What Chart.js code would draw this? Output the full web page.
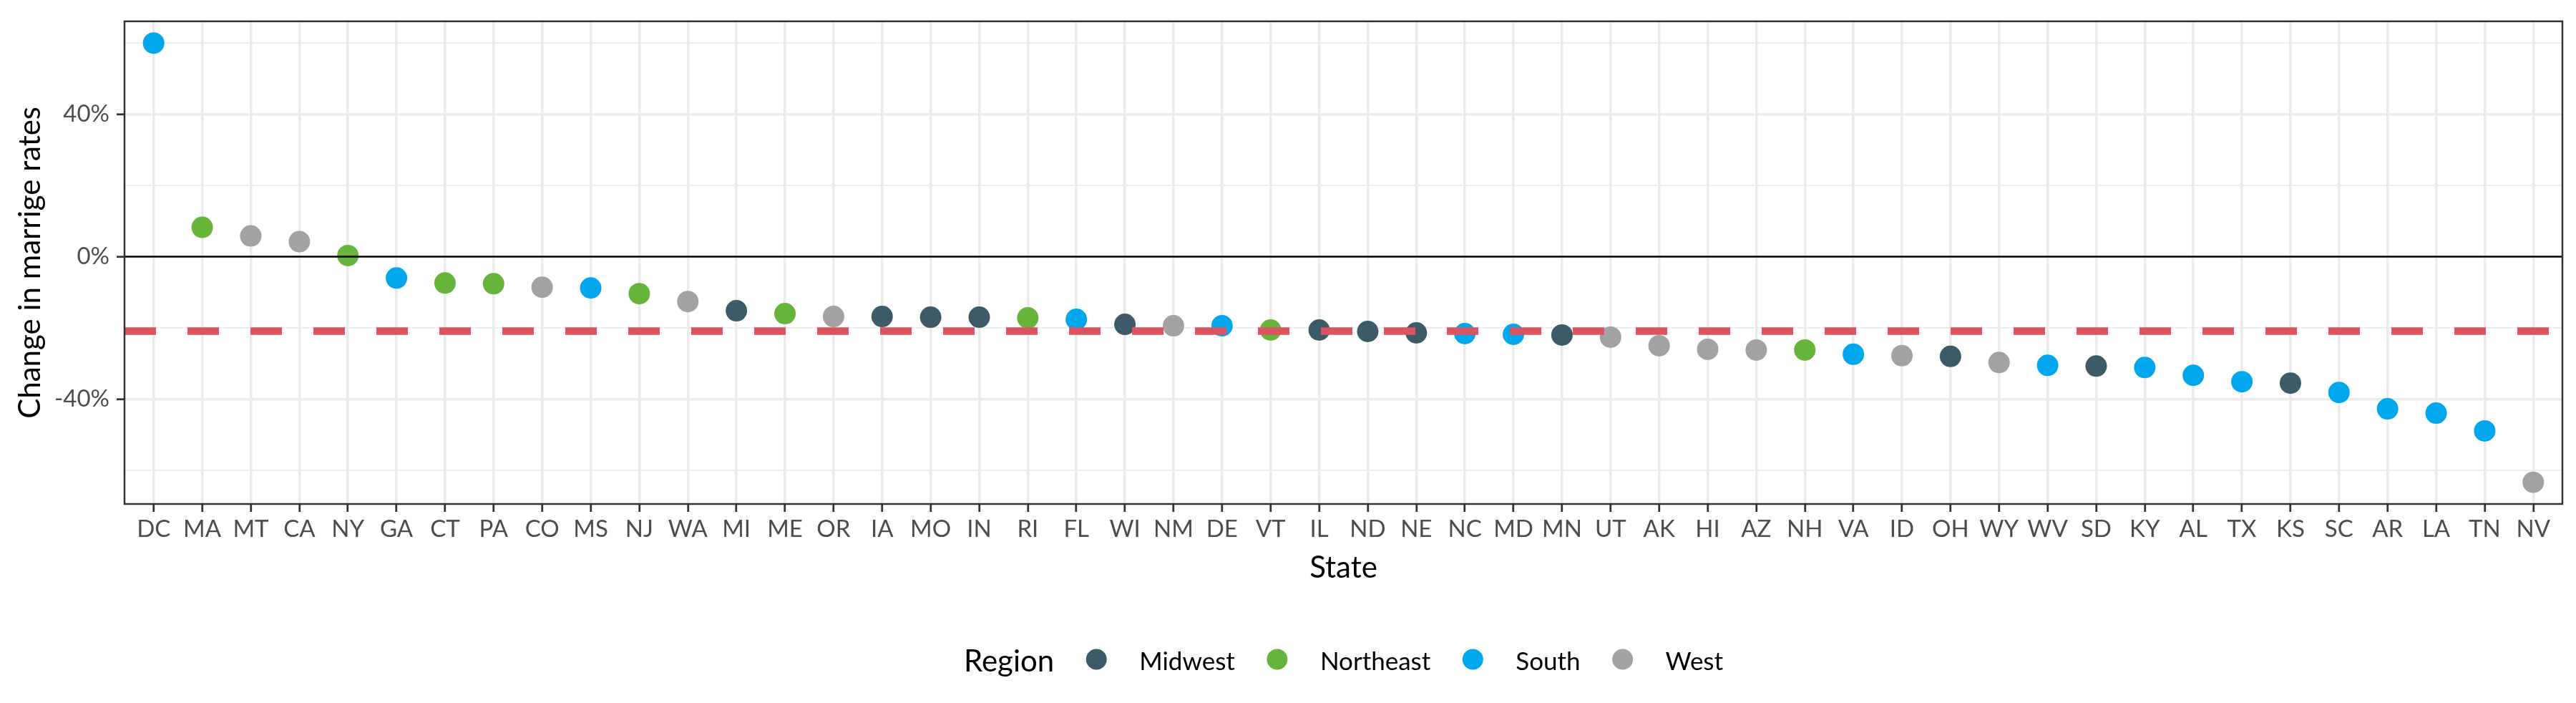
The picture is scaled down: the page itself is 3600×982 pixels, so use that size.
<!DOCTYPE html>
<html>
<head>
<meta charset="utf-8">
<title>Change in marrige rates by state</title>
<script src="https://cdn.jsdelivr.net/npm/chart.js@4.4.0/dist/chart.umd.min.js"></script>
<style>
  html, body { margin: 0; padding: 0; background: #fff; }
  canvas { display: block; }
</style>
</head>
<body>
<canvas id="chart" width="3600" height="982"></canvas>
<script>
// values (percent change)
const states = ["DC", "MA", "MT", "CA", "NY", "GA", "CT", "PA", "CO", "MS",
                "NJ", "WA", "MI", "ME", "OR", "IA", "MO", "IN", "RI", "FL",
                "WI", "NM", "DE", "VT", "IL", "ND", "NE", "NC", "MD", "MN",
                "UT", "AK", "HI", "AZ", "NH", "VA", "ID", "OH", "WY", "WV",
                "SD", "KY", "AL", "TX", "KS", "SC", "AR", "LA", "TN", "NV"];
const changes = [59.9, 8.2, 5.8, 4.2, 0.3, -6.0, -7.4, -7.6, -8.6, -8.8,
                 -10.4, -12.6, -15.2, -16.0, -16.8, -16.8, -17.0, -17.0, -17.2, -17.6,
                 -19.0, -19.4, -19.4, -20.6, -20.6, -21.0, -21.4, -21.6, -21.8, -22.0,
                 -22.6, -25.0, -26.0, -26.2, -26.2, -27.4, -27.8, -28.0, -29.7, -30.5,
                 -30.7, -31.1, -33.3, -35.1, -35.5, -38.1, -42.7, -43.9, -48.9, -63.3];
const regions = ["South", "Northeast", "West", "West", "Northeast", "South", "Northeast", "Northeast", "West", "South",
                 "Northeast", "West", "Midwest", "Northeast", "West", "Midwest", "Midwest", "Midwest", "Northeast", "South",
                 "Midwest", "West", "South", "Northeast", "Midwest", "Midwest", "Midwest", "South", "South", "Midwest",
                 "West", "West", "West", "West", "Northeast", "South", "West", "Midwest", "West", "South",
                 "Midwest", "South", "South", "South", "Midwest", "South", "South", "South", "South", "West"];
const regionNames = ["Midwest", "Northeast", "South", "West"];
const regionColors = ["#3D5B67", "#67B43B", "#00A7EC", "#A2A2A2"];
const yTicks = [-60, -40, -20, 0, 20, 40, 60];
const yLabelled = [-40, 0, 40];
const referenceChange = -20.9;

const xMin = -0.6;
const xMax = states.length - 1 + 0.6;
const FONT = "Lato";

const pointSets = regionNames.map((name, r) => ({
    type: "scatter",
    label: name,
    region: true,
    order: 2,
    data: states.map((s, i) => ({ x: i, y: changes[i], r: regions[i] }))
               .filter(p => p.r === name),
    backgroundColor: regionColors[r],
    borderWidth: 0,
    pointRadius: 15,
    pointHoverRadius: 15
}));

const zeroLine = {
    type: "line",
    label: "zero",
    order: 1,
    data: [{ x: xMin, y: 0 }, { x: xMax, y: 0 }],
    borderColor: "#000000",
    borderWidth: 2.5,
    pointRadius: 0
};

const refLine = {
    type: "line",
    label: "reference",
    order: 0,
    data: [{ x: xMin, y: referenceChange }, { x: xMax, y: referenceChange }],
    borderColor: "#DB5461",
    borderWidth: 10.5,
    borderDash: [44, 44],
    borderCapStyle: "butt",
    pointRadius: 0
};

const panelBorder = {
    id: "panelBorder",
    afterDatasetsDraw(chart) {
        const { ctx, chartArea: a } = chart;
        ctx.save();
        ctx.strokeStyle = "#333333";
        ctx.lineWidth = 2.5;
        ctx.strokeRect(a.left, a.top, a.right - a.left, a.bottom - a.top);
        ctx.restore();
    }
};

// legend laid out like ggplot's bottom legend: title inline, then keys
const regionLegend = {
    id: "regionLegend",
    afterDraw(chart) {
        const { ctx, chartArea: a } = chart;
        const items = chart.data.datasets.filter(d => d.region);
        const y = 921;
        ctx.save();
        ctx.textBaseline = "alphabetic";
        ctx.font = `42px ${FONT}`;
        const titleW = ctx.measureText("Region").width;
        ctx.font = `35px ${FONT}`;
        const widths = items.map(d => ctx.measureText(d.label).width);
        const total = titleW + widths.reduce((s, w) => s + w + 119, 0);
        let x = (a.left + a.right) / 2 - total / 2;

        ctx.fillStyle = "#000000";
        ctx.font = `42px ${FONT}`;
        ctx.fillText("Region", x, y + 17);
        x += titleW;

        ctx.font = `35px ${FONT}`;
        items.forEach((d, i) => {
            x += 59;
            ctx.beginPath();
            ctx.fillStyle = d.backgroundColor;
            ctx.arc(x, y, 14.5, 0, Math.PI * 2);
            ctx.fill();
            x += 60;
            ctx.fillStyle = "#000000";
            ctx.fillText(d.label, x, y + 15);
            x += widths[i];
        });
        ctx.restore();
    }
};

new Chart(document.getElementById("chart"), {
    type: "scatter",
    data: { datasets: [...pointSets, zeroLine, refLine] },
    options: {
        responsive: false,
        devicePixelRatio: 1,
        animation: false,
        layout: { padding: { left: 0, right: 19, top: 28, bottom: 163 } },
        plugins: {
            legend: { display: false },
            tooltip: { enabled: false }
        },
        scales: {
            x: {
                type: "linear",
                min: xMin,
                max: xMax,
                afterBuildTicks: scale => { scale.ticks = states.map((s, i) => ({ value: i })); },
                afterFit: scale => { scale.height = 115; },
                ticks: {
                    autoSkip: false,
                    maxRotation: 0,
                    padding: 5,
                    color: "#4D4D4D",
                    font: { family: FONT, size: 33 },
                    callback: v => states[v]
                },
                grid: {
                    color: "#EBEBEB",
                    lineWidth: 3.5,
                    tickColor: "#333333",
                    tickWidth: 2.8,
                    tickLength: 11
                },
                border: { display: false },
                title: {
                    display: true,
                    text: "State",
                    color: "#000000",
                    font: { family: FONT, size: 42, lineHeight: 1.2 },
                    padding: { top: 0, bottom: 0 }
                }
            },
            y: {
                type: "linear",
                min: -69.4,
                max: 66.0,
                afterBuildTicks: scale => { scale.ticks = yTicks.map(v => ({ value: v })); },
                afterFit: scale => { scale.width = 174; },
                ticks: {
                    padding: 10,
                    color: "#4D4D4D",
                    font: { family: FONT, size: 33 },
                    callback: v => yLabelled.includes(v) ? v + "%" : ""
                },
                grid: {
                    color: "#EBEBEB",
                    lineWidth: c => yLabelled.includes(c.tick.value) ? 3.5 : 1.75,
                    tickColor: c => yLabelled.includes(c.tick.value) ? "#333333" : "rgba(0,0,0,0)",
                    tickWidth: 2.8,
                    tickLength: 11
                },
                border: { display: false },
                title: {
                    display: true,
                    text: "Change in marrige rates",
                    color: "#000000",
                    font: { family: FONT, size: 42, lineHeight: 1.2 },
                    padding: { top: 17, bottom: 0 }
                }
            }
        }
    },
    plugins: [panelBorder, regionLegend]
});
</script>
</body>
</html>
